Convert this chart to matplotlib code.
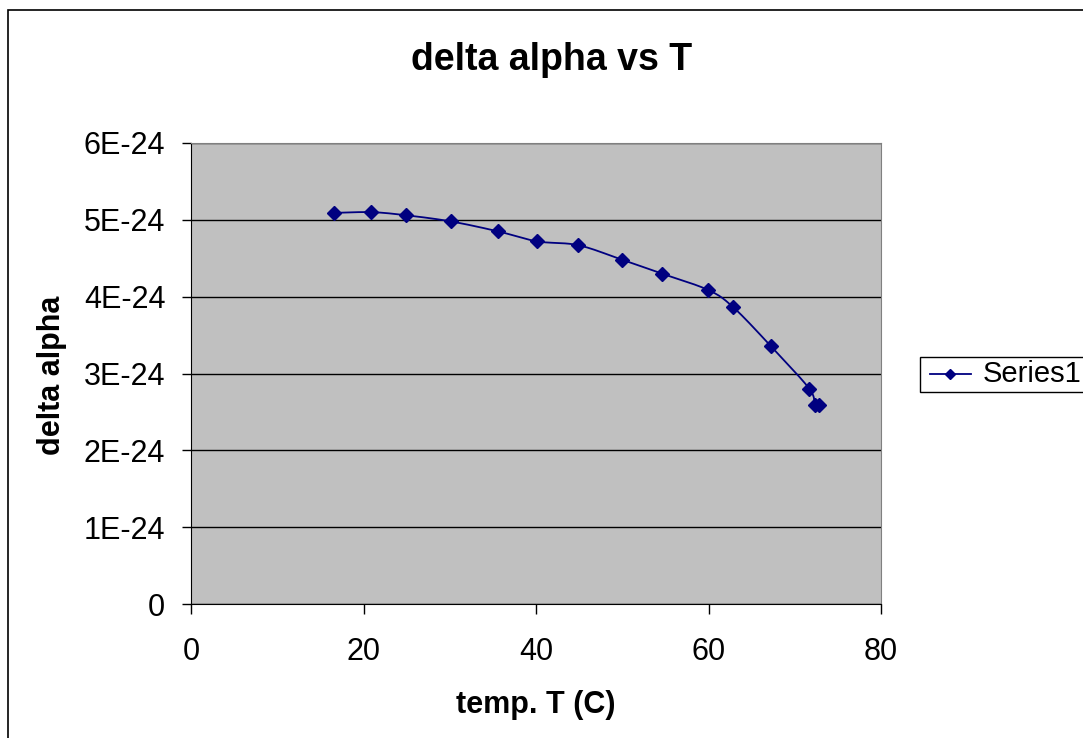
import numpy as np
import matplotlib
matplotlib.use("Agg")
import matplotlib.pyplot as plt
from matplotlib.patches import Rectangle

plt.rcParams['font.family'] = ['Liberation Sans', 'DejaVu Sans']

temps = [16.6, 20.9, 24.9, 30.1, 35.6, 40.1, 44.9, 50.0, 54.6, 59.9, 62.8, 67.2, 71.7, 72.3, 72.8]
delta_alpha = [5.09e-24, 5.10e-24, 5.06e-24, 4.98e-24, 4.85e-24, 4.72e-24, 4.67e-24, 4.48e-24,
               4.30e-24, 4.09e-24, 3.87e-24, 3.36e-24, 2.80e-24, 2.59e-24, 2.59e-24]
yticks = [0, 1e-24, 2e-24, 3e-24, 4e-24, 5e-24, 6e-24]
ytick_labels = ["0", "1E-24", "2E-24", "3E-24", "4E-24", "5E-24", "6E-24"]
xticks = [0, 20, 40, 60, 80]

W, H = 1083, 738
fig = plt.figure(figsize=(W / 100, H / 100), dpi=100)
fig.patch.set_facecolor('white')

# outer chart border
fig.patches.append(Rectangle((8 / W, -0.2), 1.2, 1.2 - 10 / H, transform=fig.transFigure,
                             fill=False, edgecolor='black', linewidth=1.2))

ax = fig.add_axes([191 / W, 1 - 604 / H, (881 - 191) / W, (604 - 143) / H])
ax.set_facecolor('#C0C0C0')

# Smoothed line (Bezier through data points, like Excel's smoothed line)
x = np.array(temps)
y = np.array(delta_alpha)
px = np.concatenate([[x[0]], x, [x[-1]]])
py = np.concatenate([[y[0]], y, [y[-1]]])
sx, sy = [], []
t = np.linspace(0, 1, 20)
for i in range(1, len(px) - 2):
    p0x, p1x, p2x, p3x = px[i - 1], px[i], px[i + 1], px[i + 2]
    p0y, p1y, p2y, p3y = py[i - 1], py[i], py[i + 1], py[i + 2]
    c1x = p1x + (p2x - p0x) / 6
    c1y = p1y + (p2y - p0y) / 6
    c2x = p2x - (p3x - p1x) / 6
    c2y = p2y - (p3y - p1y) / 6
    bx = (1 - t) ** 3 * p1x + 3 * (1 - t) ** 2 * t * c1x + 3 * (1 - t) * t ** 2 * c2x + t ** 3 * p2x
    by = (1 - t) ** 3 * p1y + 3 * (1 - t) ** 2 * t * c1y + 3 * (1 - t) * t ** 2 * c2y + t ** 3 * p2y
    sx.extend(bx)
    sy.extend(by)
ax.plot(sx, sy, color='#000080', linewidth=1.3, zorder=3)
ax.plot(x, y, linestyle='none', marker='D', markersize=7, color='#000080', zorder=4)

ax.set_xlim(0, 80)
ax.set_ylim(0, 6e-24)
ax.set_xticks(xticks)
ax.set_xticklabels([str(v) for v in xticks])
ax.set_yticks(yticks)
ax.set_yticklabels(ytick_labels)
ax.yaxis.grid(True, color='black', linewidth=1)
ax.set_axisbelow(True)
ax.tick_params(axis='both', direction='out', width=1, color='black', labelsize=22)
ax.tick_params(axis='x', length=7, pad=17)
ax.tick_params(axis='y', length=6.5, pad=12)
for s in ['top', 'right']:
    ax.spines[s].set_color('#808080')
for s in ['left', 'bottom']:
    ax.spines[s].set_color('black')

fig.text(552 / W, 1 - 60 / H, 'delta alpha vs T', fontsize=27,
         fontweight='bold', ha='center', va='center')
fig.text(536 / W, 1 - 705 / H, 'temp. T (C)', fontsize=22,
         fontweight='bold', ha='center', va='center')
fig.text(52 / W, 1 - 375 / H, 'delta alpha', fontsize=22, rotation=90,
         fontweight='bold', ha='center', va='center')

# legend
fig.patches.append(Rectangle((920 / W, 1 - 392 / H), 0.2, 35 / H, transform=fig.transFigure,
                             fill=True, facecolor='white', edgecolor='black', linewidth=1))
fig.lines.append(plt.Line2D([930 / W, 971 / W], [1 - 374 / H, 1 - 374 / H], transform=fig.transFigure,
                            color='#000080', linewidth=1.3, marker=None))
fig.lines.append(plt.Line2D([950 / W], [1 - 374 / H], transform=fig.transFigure,
                            color='#000080', marker='D', markersize=5.5, linestyle='none'))
fig.text(983 / W, 1 - 374 / H, 'Series1', fontsize=21, ha='left', va='center')

fig.savefig('out.png', dpi=100)
